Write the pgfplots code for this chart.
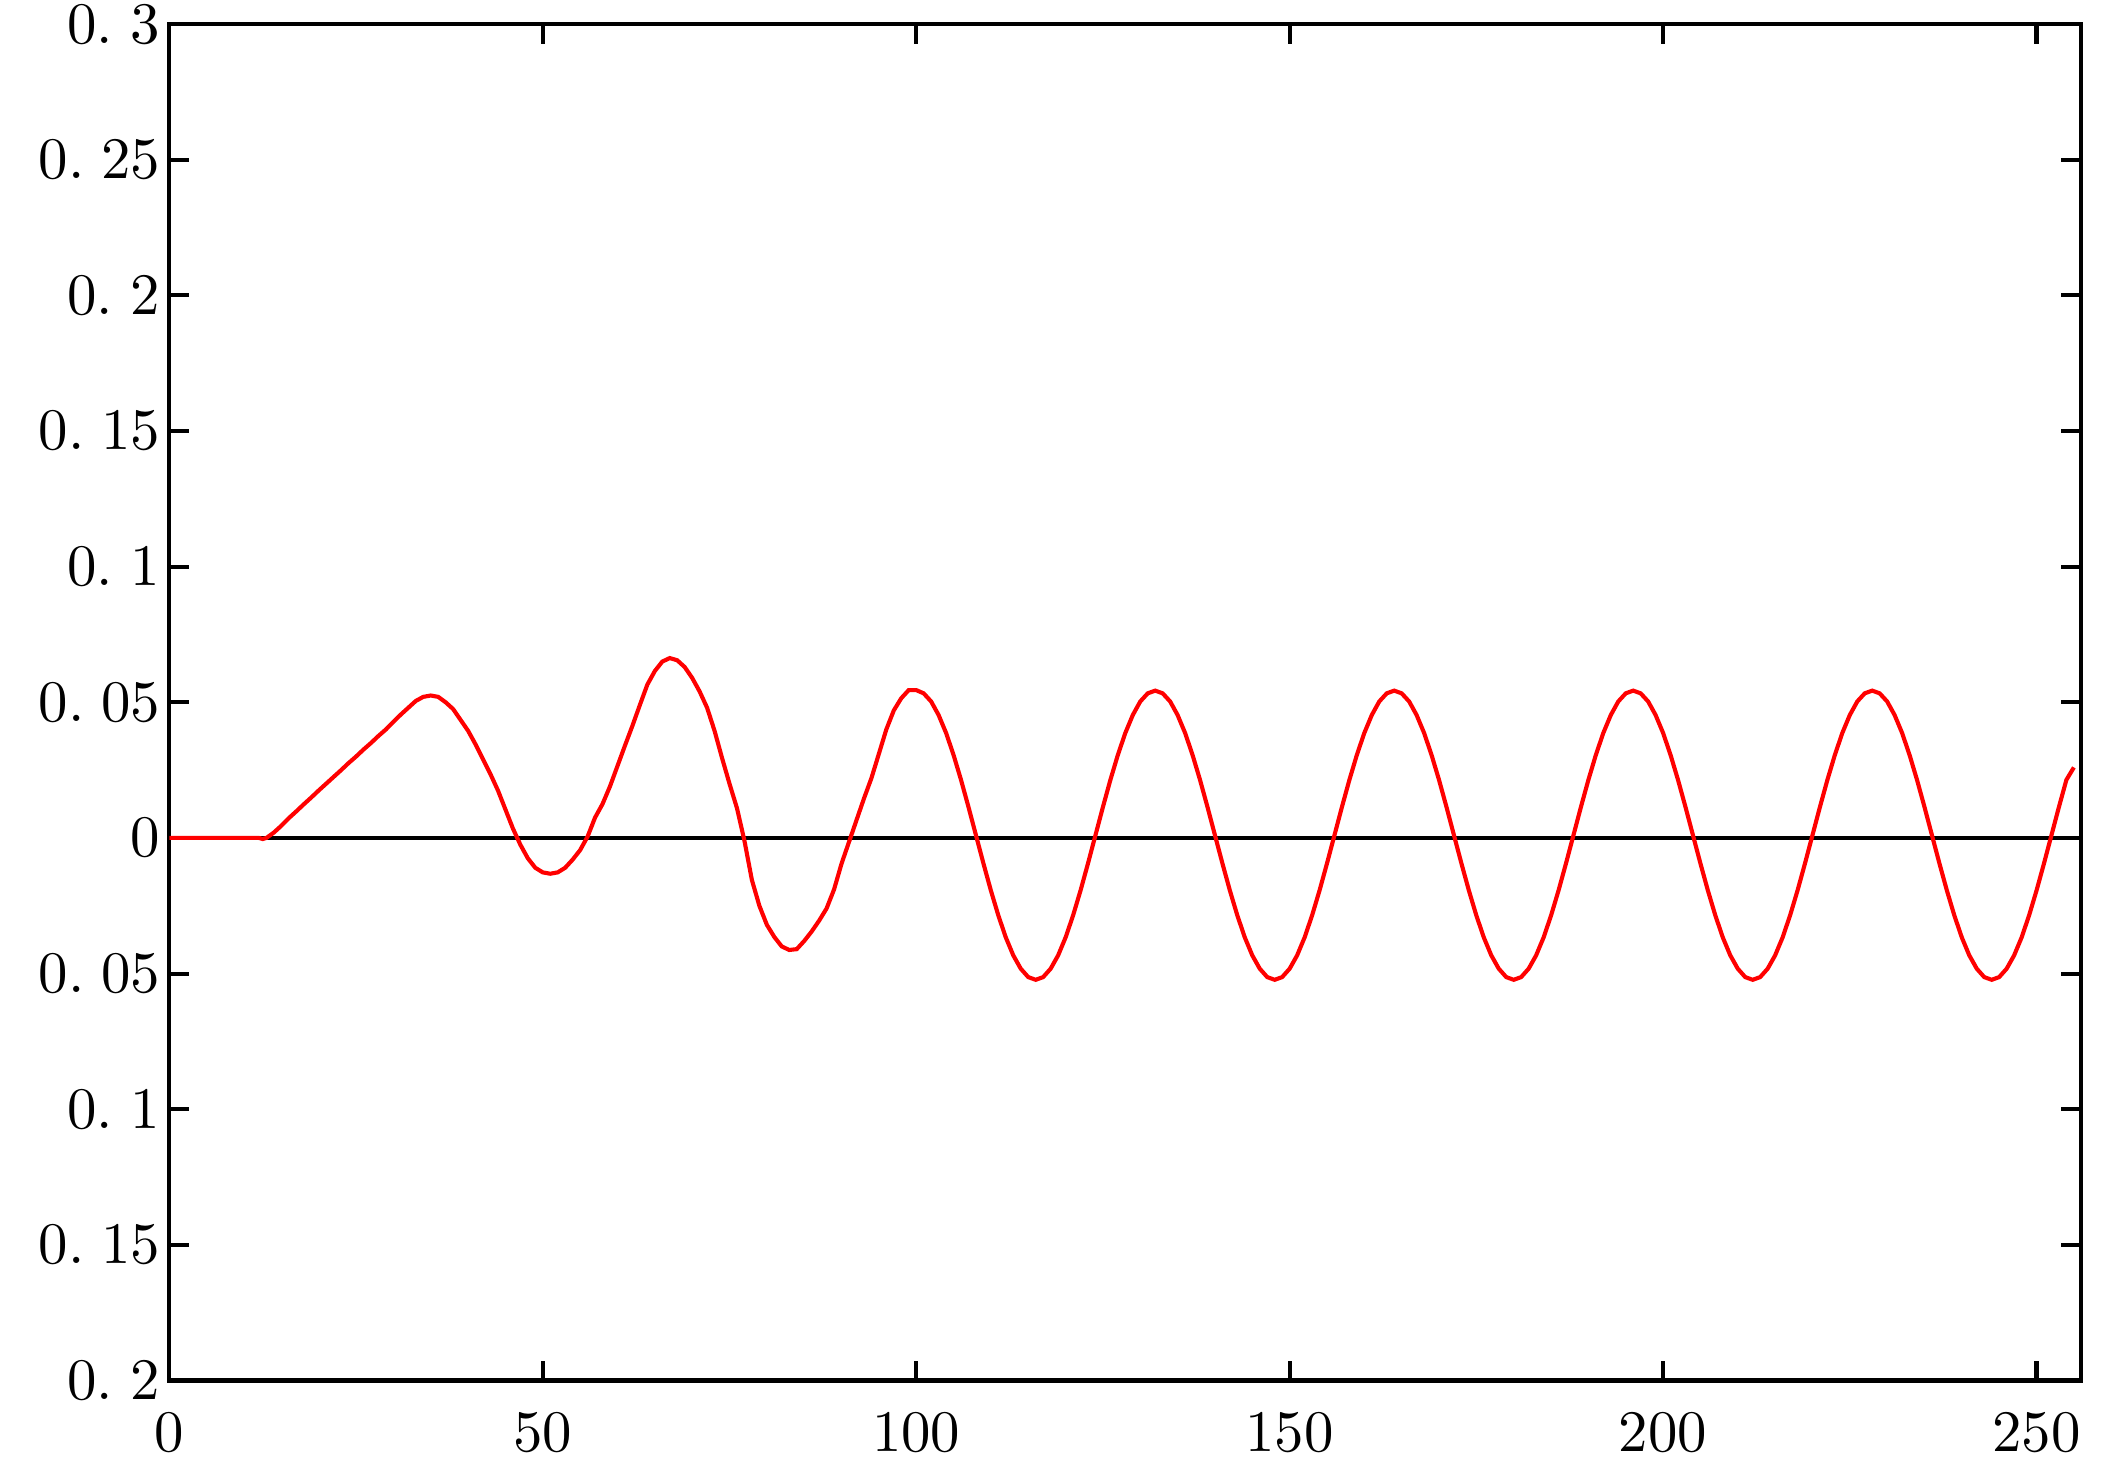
\documentclass[border=0pt]{standalone}
\usepackage{pgfplots}
\pgfplotsset{compat=1.18}
\begin{document}
\begin{tikzpicture}
\begin{axis}[name=ax,
  scale only axis, width=325.2pt, height=230.7pt,
  xmin=0, xmax=256, ymin=-0.2, ymax=0.3,
  xtick={0,50,100,150,200,250},
  xticklabels={0,50,100,150,200,250},
  ytick={-0.2,-0.15,-0.1,-0.05,0,0.05,0.1,0.15,0.2,0.25,0.3},
  yticklabels={0.\kern3pt 2,0.\kern2.8pt 15,0.\kern3pt 1,0.\kern2.8pt 05,0,0.\kern2.8pt 05,0.\kern3pt 1,0.\kern2.8pt 15,0.\kern3pt 2,0.\kern2.8pt 25,0.\kern3pt 3},
  tick align=inside, major tick length=3.4pt,
  axis line style={line width=0.7pt, black},
  tick style={line width=0.7pt, black},
  xticklabel style={inner sep=0pt, yshift=-5.3pt},
  yticklabel style={inner sep=0pt, xshift=-1.4pt},
  clip=true,
]
\addplot[black, line width=0.7pt] coordinates {(0,0) (256,0)};
\addplot[red, line width=0.7pt] coordinates {
(0,0) (12,0) (12.5,-0.0004) (13,0) (14,0.002) (15,0.0045) (16,0.0073) (17,0.0098) (18,0.0124) (19,0.0149)
(20,0.0175) (21,0.020) (22,0.0225) (23,0.025) (24,0.0276) (25,0.030) (26,0.0326) (27,0.035) (28,0.0376) (29,0.040)
(30,0.0428) (31,0.0455) (32,0.048) (33,0.0505) (34,0.052) (35,0.0525) (36,0.052) (37,0.050) (38,0.0475) (39,0.0435)
(40,0.0395) (41,0.0345) (42,0.029) (43,0.0235) (44,0.0175) (45,0.0105) (46,0.0035) (47,-0.0025) (48,-0.0075) (49,-0.011)
(50,-0.0127) (51,-0.0132) (52,-0.0127) (53,-0.011) (54,-0.008) (55,-0.0045) (56,0.0005) (57,0.0075) (58,0.0125) (59,0.019)
(60,0.0265) (61,0.034) (62,0.0413) (63,0.049) (64,0.0565) (65,0.0615) (66,0.065) (67,0.0663) (68,0.0655) (69,0.063)
(70,0.059) (71,0.054) (72,0.048) (73,0.0395) (74,0.0295) (75,0.020) (76,0.011) (77,-0.001) (78,-0.0155) (79,-0.025)
(80,-0.032) (81,-0.0365) (82,-0.040) (83,-0.0413) (84,-0.041) (85,-0.038) (86,-0.0345) (87,-0.0305) (88,-0.026) (89,-0.019)
(90,-0.0095) (91,-0.0015) (92,0.0065) (93,0.0145) (94,0.022) (95,0.031) (96,0.040) (97,0.047) (98,0.0515) (99,0.0545)
(100,0.0545) (101,0.0533) (102,0.0503) (103,0.0453) (104,0.0387) (105,0.0306) (106,0.0214) (107,0.0114) (108,0.001) (109,-0.0094)
(110,-0.0194) (111,-0.0286) (112,-0.0367) (113,-0.0433) (114,-0.0482) (115,-0.0513) (116,-0.0523) (117,-0.0513) (118,-0.0482) (119,-0.0433)
(120,-0.0367) (121,-0.0286) (122,-0.0194) (123,-0.0094) (124,0.001) (125,0.0114) (126,0.0214) (127,0.0306) (128,0.0387) (129,0.0453)
(130,0.0503) (131,0.0533) (132,0.0543) (133,0.0533) (134,0.0503) (135,0.0453) (136,0.0387) (137,0.0306) (138,0.0214) (139,0.0114)
(140,0.001) (141,-0.0094) (142,-0.0194) (143,-0.0286) (144,-0.0367) (145,-0.0433) (146,-0.0482) (147,-0.0513) (148,-0.0523) (149,-0.0513)
(150,-0.0482) (151,-0.0433) (152,-0.0367) (153,-0.0286) (154,-0.0194) (155,-0.0094) (156,0.001) (157,0.0114) (158,0.0214) (159,0.0306)
(160,0.0387) (161,0.0453) (162,0.0503) (163,0.0533) (164,0.0543) (165,0.0533) (166,0.0503) (167,0.0453) (168,0.0387) (169,0.0306)
(170,0.0214) (171,0.0114) (172,0.001) (173,-0.0094) (174,-0.0194) (175,-0.0286) (176,-0.0367) (177,-0.0433) (178,-0.0482) (179,-0.0513)
(180,-0.0523) (181,-0.0513) (182,-0.0482) (183,-0.0433) (184,-0.0367) (185,-0.0286) (186,-0.0194) (187,-0.0094) (188,0.001) (189,0.0114)
(190,0.0214) (191,0.0306) (192,0.0387) (193,0.0453) (194,0.0503) (195,0.0533) (196,0.0543) (197,0.0533) (198,0.0503) (199,0.0453)
(200,0.0387) (201,0.0306) (202,0.0214) (203,0.0114) (204,0.001) (205,-0.0094) (206,-0.0194) (207,-0.0286) (208,-0.0367) (209,-0.0433)
(210,-0.0482) (211,-0.0513) (212,-0.0523) (213,-0.0513) (214,-0.0482) (215,-0.0433) (216,-0.0367) (217,-0.0286) (218,-0.0194) (219,-0.0094)
(220,0.001) (221,0.0114) (222,0.0214) (223,0.0306) (224,0.0387) (225,0.0453) (226,0.0503) (227,0.0533) (228,0.0543) (229,0.0533)
(230,0.0503) (231,0.0453) (232,0.0387) (233,0.0306) (234,0.0214) (235,0.0114) (236,0.001) (237,-0.0094) (238,-0.0194) (239,-0.0286)
(240,-0.0367) (241,-0.0433) (242,-0.0482) (243,-0.0513) (244,-0.0523) (245,-0.0513) (246,-0.0482) (247,-0.0433) (248,-0.0367) (249,-0.0286)
(250,-0.0194) (251,-0.0094) (252,0.001) (253,0.0114) (254,0.0214) (255,0.0260)
};
\end{axis}
\path ([xshift=-28.8pt,yshift=-16.8pt]ax.south west) rectangle ([xshift=4.2pt,yshift=4.1pt]ax.north east);
\end{tikzpicture}
\end{document}
